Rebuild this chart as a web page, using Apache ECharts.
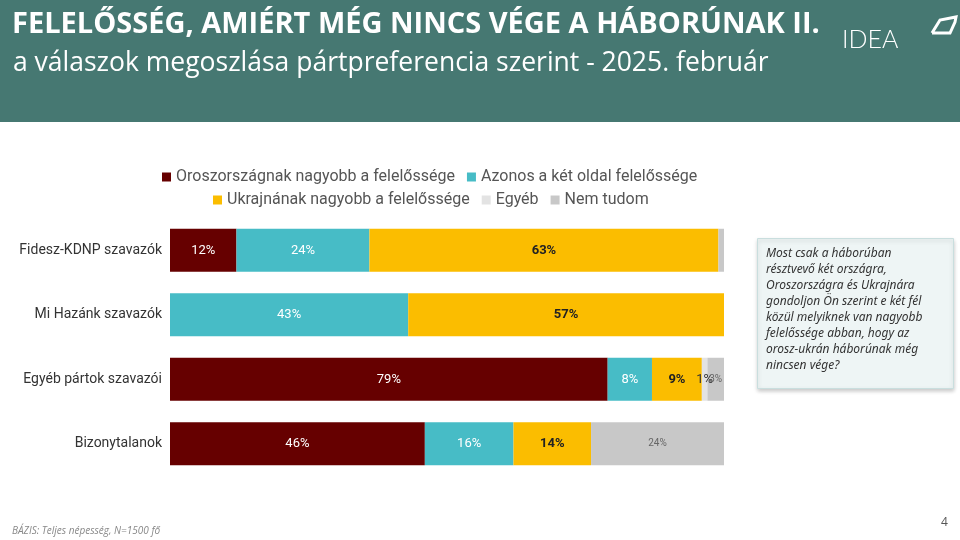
<!DOCTYPE html>
<html>
<head>
<meta charset="utf-8">
<script src="https://cdn.jsdelivr.net/npm/echarts@6/dist/echarts.min.js"></script>
<style>
html,body{margin:0;width:960px;height:540px;background:#fff;}
#c{width:960px;height:540px;}
</style>
</head>
<body>
<div id="c"></div>
<script>
var categories = ['Fidesz-KDNP szavazók', 'Mi Hazánk szavazók', 'Egyéb pártok szavazói', 'Bizonytalanok'];
var seriesNames = ['Oroszországnak nagyobb a felelőssége', 'Azonos a két oldal felelőssége', 'Ukrajnának nagyobb a felelőssége', 'Egyéb', 'Nem tudom'];
var oroszVals = [12, 0, 79, 46];
var azonosVals = [24, 43, 8, 16];
var ukrajnaVals = [63, 57, 9, 14];
var egyebVals = [0, 0, 1, 0];
var nemTudomVals = [1, 0, 3, 24];
var colors = ['#660000', '#47bcc6', '#fbbd00', '#e3e3e3', '#c8c8c8'];
var labelColors = ['#fff', '#fff', '#222', '#333', '#666'];

var chart = echarts.init(document.getElementById('c'));
var all = [oroszVals, azonosVals, ukrajnaVals, egyebVals, nemTudomVals];
var series = all.map(function (vals, i) {
  return {
    name: seriesNames[i], type: 'bar', stack: 'a', barWidth: 43,
    itemStyle: { color: colors[i] },
    label: {
      show: true, fontFamily: 'Roboto', fontSize: i === 4 ? 10 : 13, color: labelColors[i],
      fontWeight: i === 2 ? 'bold' : 'normal',
      formatter: function (p) { return (p.value >= 1 && !(i === 4 && p.dataIndex === 0)) ? p.value + '%' : ''; }
    },
    data: vals.map(function (v) { return v === 0 ? null : v; })
  };
});
chart.setOption({
  animation: false,
  legend: [
    { data: seriesNames.slice(0, 2), top: 164, left: 157, itemWidth: 9, itemHeight: 9, icon: 'rect', itemGap: 12,
      textStyle: { fontFamily: 'Roboto', fontSize: 16, color: '#555' } },
    { data: seriesNames.slice(2), top: 187, left: 208, itemWidth: 9, itemHeight: 9, icon: 'rect', itemGap: 12,
      textStyle: { fontFamily: 'Roboto', fontSize: 16, color: '#555' } }
  ],
  grid: { left: 170, right: 236, top: 218, bottom: 64 },
  xAxis: { type: 'value', min: 0, max: 100, show: false },
  yAxis: { type: 'category', data: categories, inverse: true,
    axisLine: { show: false }, axisTick: { show: false },
    axisLabel: { fontFamily: 'Roboto', fontSize: 14, color: '#333', margin: 8 } },
  graphic: [
    { type: 'rect', left: 0, top: 0, shape: { width: 960, height: 122 }, style: { fill: '#467872' } },
    { type: 'text', left: 12, top: 10, style: { text: 'FELELŐSSÉG, AMIÉRT MÉG NINCS VÉGE A HÁBORÚNAK II.', fill: '#fff',
      font: 'bold 29px "Open Sans"' } },
    { type: 'text', left: 13, top: 50, style: { text: 'a válaszok megoszlása pártpreferencia szerint - 2025. február', fill: '#fff',
      font: '26.5px "Open Sans"' } },
    { type: 'text', left: 842, top: 27, style: { text: 'IDEA', fill: '#fff', font: '300 25px "Lato"', letterSpacing: 9 } },
    { type: 'polyline', shape: { points: [[932, 33], [940, 20], [956, 17], [955, 22], [950, 33], [932, 33]] }, style: { stroke: '#fff', lineWidth: 3, fill: null } },
    { type: 'rect', left: 757, top: 238, shape: { width: 196, height: 150 },
      style: { fill: '#eef5f5', stroke: '#c9dede', lineWidth: 1, shadowBlur: 4, shadowColor: 'rgba(0,0,0,0.2)', shadowOffsetY: 2 } },
    { type: 'text', left: 766, top: 246, style: {
      text: 'Most csak a háborúban\nrésztvevő két országra,\nOroszországra és Ukrajnára\ngondoljon Ön szerint e két fél\nközül melyiknek van nagyobb\nfelelőssége abban, hogy az\norosz-ukrán háborúnak még\nnincsen vége?',
      fill: '#333', font: 'italic 12px "Noto Sans"', lineHeight: 16 } },
    { type: 'text', left: 12, top: 526, style: { text: 'BÁZIS: Teljes népesség, N=1500 fő', fill: '#888', font: 'italic 10px "Open Sans"' } },
    { type: 'text', left: 941, top: 517, style: { text: '4', fill: '#555', font: '12px "Open Sans"' } }
  ],
  series: series
});
</script>
</body>
</html>
